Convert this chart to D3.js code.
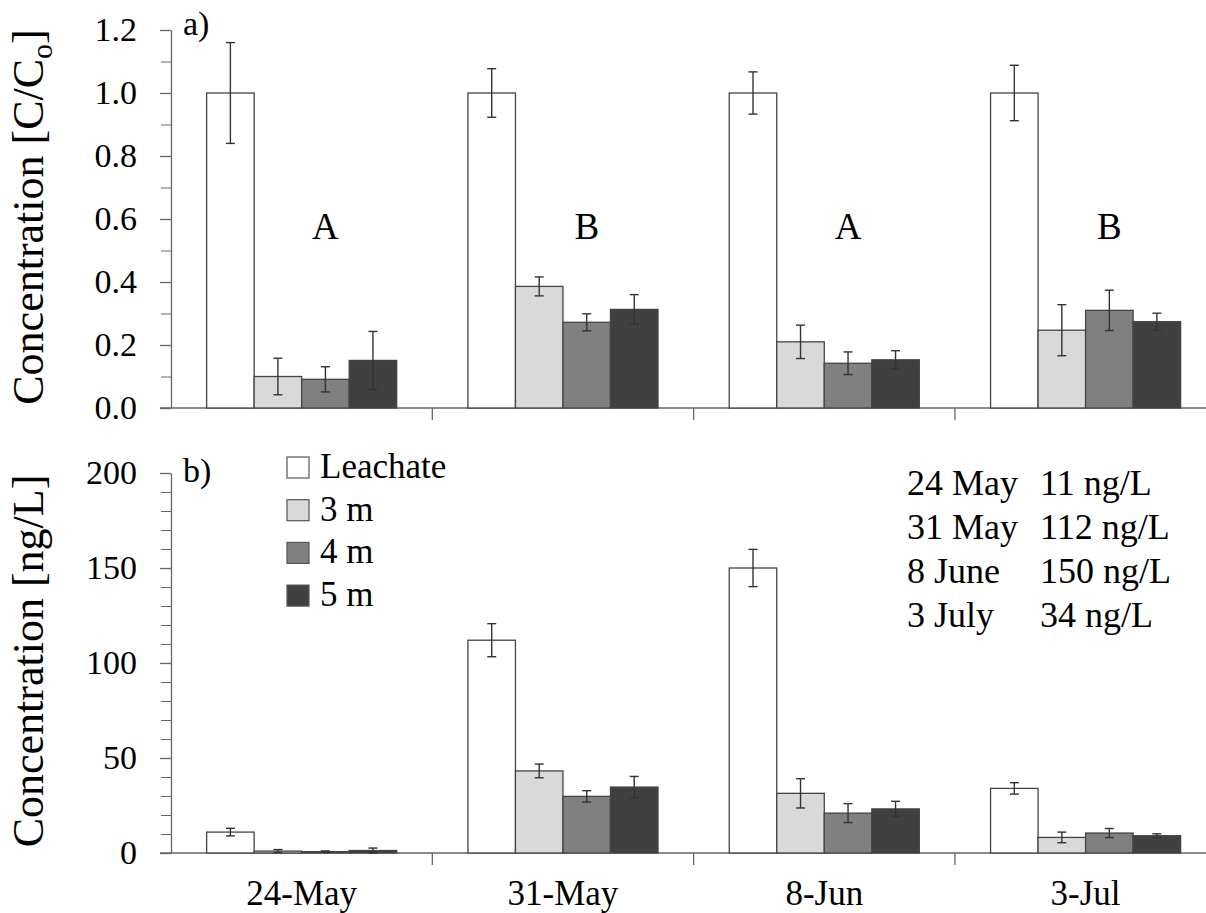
<!DOCTYPE html>
<html>
<head>
<meta charset="utf-8">
<script src="https://cdn.jsdelivr.net/npm/d3@7"></script>
<style>
  body { margin: 0; background: #fff; }
</style>
</head>
<body>
<div id="app"></div>
<script>
const categories = ["24-May", "31-May", "8-Jun", "3-Jul"]
const series = ["Leachate", "3 m", "4 m", "5 m"]
const colors = ["#ffffff", "#d9d9d9", "#808080", "#404040"]
const groupLetters = ["A", "B", "A", "B"]

// panel a) relative concentration C/Co, with errors
const leachateA = [1.0, 1.0, 1.0, 1.0]
const leachateAErr = [0.16, 0.077, 0.067, 0.088]
const m3A = [0.10, 0.386, 0.21, 0.247]
const m3AErr = [0.058, 0.03, 0.053, 0.081]
const m4A = [0.091, 0.272, 0.142, 0.31]
const m4AErr = [0.04, 0.027, 0.036, 0.064]
const m5A = [0.151, 0.313, 0.153, 0.274]
const m5AErr = [0.092, 0.047, 0.029, 0.027]

// panel b) concentration ng/L
const leachateB = [11, 112, 150, 34]
const leachateBErr = [2, 8.7, 9.8, 3]
const m3B = [1.0, 43.2, 31.4, 8.2]
const m3BErr = [0.8, 3.6, 7.7, 2.8]
const m4B = [0.7, 29.8, 21, 10.5]
const m4BErr = [0.4, 3, 5, 2.4]
const m5B = [1.3, 34.7, 23.2, 9.1]
const m5BErr = [1.3, 5.6, 4, 1]

const tableDates = ["24 May", "31 May", "8 June", "3 July"]
const tableConc = ["11 ng/L", "112 ng/L", "150 ng/L", "34 ng/L"]

const ticksA = [0, 0.2, 0.4, 0.6, 0.8, 1.0, 1.2]
const minorA = d3.range(0, 13).map(d => d / 10)
const ticksB = [0, 50, 100, 150, 200]
const minorB = d3.range(0, 21).map(d => d * 10)

const width = 1206, height = 913
const axisColor = "#666"
const serif = "Tinos, 'Nimbus Roman', 'Nimbus Roman No9 L', FreeSerif, 'Noto Serif', 'Liberation Serif', 'Times New Roman', Times, serif"

const svg = d3.select('#app')
    .append('svg')
    .attr('width', width)
    .attr('height', height)

svg.append('rect').attr('width', width).attr('height', height).attr('fill', '#fff')

const x0 = d3.scaleBand().domain(categories).range([171, 1216.25])
const x1 = d3.scaleBand().domain(series).range([0, x0.bandwidth()]).paddingOuter(0.75)

function makeTable(vals, errs) {
    const out = []
    categories.forEach((c, i) => {
        series.forEach((s, j) => {
            out.push({cat: c, s: s, v: vals[j][i], e: errs[j][i], color: colors[j]})
        })
    })
    return out
}

const dataA = makeTable([leachateA, m3A, m4A, m5A], [leachateAErr, m3AErr, m4AErr, m5AErr])
const dataB = makeTable([leachateB, m3B, m4B, m5B], [leachateBErr, m3BErr, m4BErr, m5BErr])

function label(sel) {
    return sel.style('font-family', serif).attr('fill', '#000')
}

function panel(data, y, ticks, minor, fmt, yTitle, panelLabel, labelY) {
    const g = svg.append('g')
    const y0 = y.range()[0]

    // minor ticks
    g.append('g')
        .attr('transform', 'translate(171,0)')
        .call(d3.axisLeft(y).tickValues(minor).tickSize(10).tickFormat(''))
        .call(a => a.selectAll('line').attr('stroke', axisColor))
        .call(a => a.select('.domain').remove())

    // major ticks + labels
    g.append('g')
        .attr('transform', 'translate(171,0)')
        .call(d3.axisLeft(y).tickValues(ticks).tickSize(11).tickSizeOuter(0).tickPadding(23).tickFormat(fmt))
        .call(a => a.select('.domain').attr('stroke', axisColor).attr('stroke-width', 1.3))
        .call(a => a.selectAll('line').attr('stroke', axisColor).attr('stroke-width', 1.3))
        .call(a => label(a.selectAll('text')).style('font-size', '34px'))

    // x axis line with category boundary ticks
    g.append('line')
        .attr('x1', 160).attr('x2', width)
        .attr('y1', y0).attr('y2', y0)
        .attr('stroke', axisColor).attr('stroke-width', 1.5)
    g.selectAll('.bound')
        .data(categories.slice(1))
        .enter()
        .append('line')
        .attr('x1', d => x0(d)).attr('x2', d => x0(d))
        .attr('y1', y0).attr('y2', y0 + 12)
        .attr('stroke', axisColor).attr('stroke-width', 1.3)

    // bars
    g.selectAll('.bar')
        .data(data)
        .enter()
        .append('rect')
        .attr('x', d => x0(d.cat) + x1(d.s))
        .attr('y', d => y(d.v))
        .attr('width', x1.bandwidth())
        .attr('height', d => y0 - y(d.v))
        .attr('fill', d => d.color)
        .attr('stroke', '#444')
        .attr('stroke-width', 1.3)

    // error bars
    const eb = g.selectAll('.err')
        .data(data)
        .enter()
        .append('g')
        .attr('transform', d => `translate(${x0(d.cat) + x1(d.s) + x1.bandwidth() / 2},0)`)
    eb.append('line')
        .attr('y1', d => y(d.v + d.e)).attr('y2', d => y(Math.max(0, d.v - d.e)))
        .attr('stroke', '#333').attr('stroke-width', 1.4)
    eb.append('line')
        .attr('x1', -4.5).attr('x2', 4.5)
        .attr('y1', d => y(d.v + d.e)).attr('y2', d => y(d.v + d.e))
        .attr('stroke', '#333').attr('stroke-width', 1.4)
    eb.append('line')
        .attr('x1', -4.5).attr('x2', 4.5)
        .attr('y1', d => y(Math.max(0, d.v - d.e))).attr('y2', d => y(Math.max(0, d.v - d.e)))
        .attr('stroke', '#333').attr('stroke-width', 1.4)

    // y title
    const [ya, yb] = y.range()
    const t = g.append('text')
        .attr('transform', `translate(43,${(ya + yb) / 2 - 2}) rotate(-90)`)
        .attr('text-anchor', 'middle')
        .style('font-size', '44px')
        .call(label)
    yTitle(t)

    g.append('text')
        .attr('x', 183).attr('y', labelY)
        .style('font-size', '34px')
        .call(label)
        .text(panelLabel)
}

const yA = d3.scaleLinear().domain([0, 1.2]).range([408, 30])
const yB = d3.scaleLinear().domain([0, 200]).range([853, 473])

panel(dataA, yA, ticksA, minorA, d3.format('.1f'), t => {
    t.append('tspan').text('Concentration [C/C')
    t.append('tspan').style('font-size', '30px').attr('dy', 9).text('o')
    t.append('tspan').attr('dy', -9).text(']')
}, 'a)', 35)

panel(dataB, yB, ticksB, minorB, d3.format('d'), t => {
    t.text('Concentration [ng/L]')
}, 'b)', 482)

// group letters in panel a
svg.selectAll('.letter')
    .data(categories)
    .enter()
    .append('text')
    .attr('x', (d) => x0(d) + x1('4 m') + x1.bandwidth() / 2)
    .attr('y', 239)
    .attr('text-anchor', 'middle')
    .style('font-size', '37px')
    .call(label)
    .text((d, i) => groupLetters[i])

// category labels below panel b
svg.selectAll('.catlabel')
    .data(categories)
    .enter()
    .append('text')
    .attr('x', d => x0(d) + x0.bandwidth() / 2)
    .attr('y', 905)
    .attr('text-anchor', 'middle')
    .style('font-size', '35px')
    .call(label)
    .text(d => d)

// legend
const legend = svg.append('g')
legend.selectAll('rect')
    .data(series)
    .enter()
    .append('rect')
    .attr('x', 287)
    .attr('y', (d, i) => 457 + i * 42.7)
    .attr('width', 22)
    .attr('height', 21)
    .attr('fill', (d, i) => colors[i])
    .attr('stroke', '#555')
    .attr('stroke-width', 1.2)
legend.selectAll('text')
    .data(series)
    .enter()
    .append('text')
    .attr('x', 320)
    .attr('y', (d, i) => 478 + i * 42.7)
    .style('font-size', '35px')
    .call(label)
    .text(d => d)

// concentration table
const table = svg.append('g')
table.selectAll('.tdate')
    .data(tableDates)
    .enter()
    .append('text')
    .attr('x', 907)
    .attr('y', (d, i) => 495 + i * 44)
    .style('font-size', '36px')
    .call(label)
    .text(d => d)
table.selectAll('.tconc')
    .data(tableConc)
    .enter()
    .append('text')
    .attr('x', 1040)
    .attr('y', (d, i) => 495 + i * 44)
    .style('font-size', '36px')
    .call(label)
    .text(d => d)
</script>
</body>
</html>
